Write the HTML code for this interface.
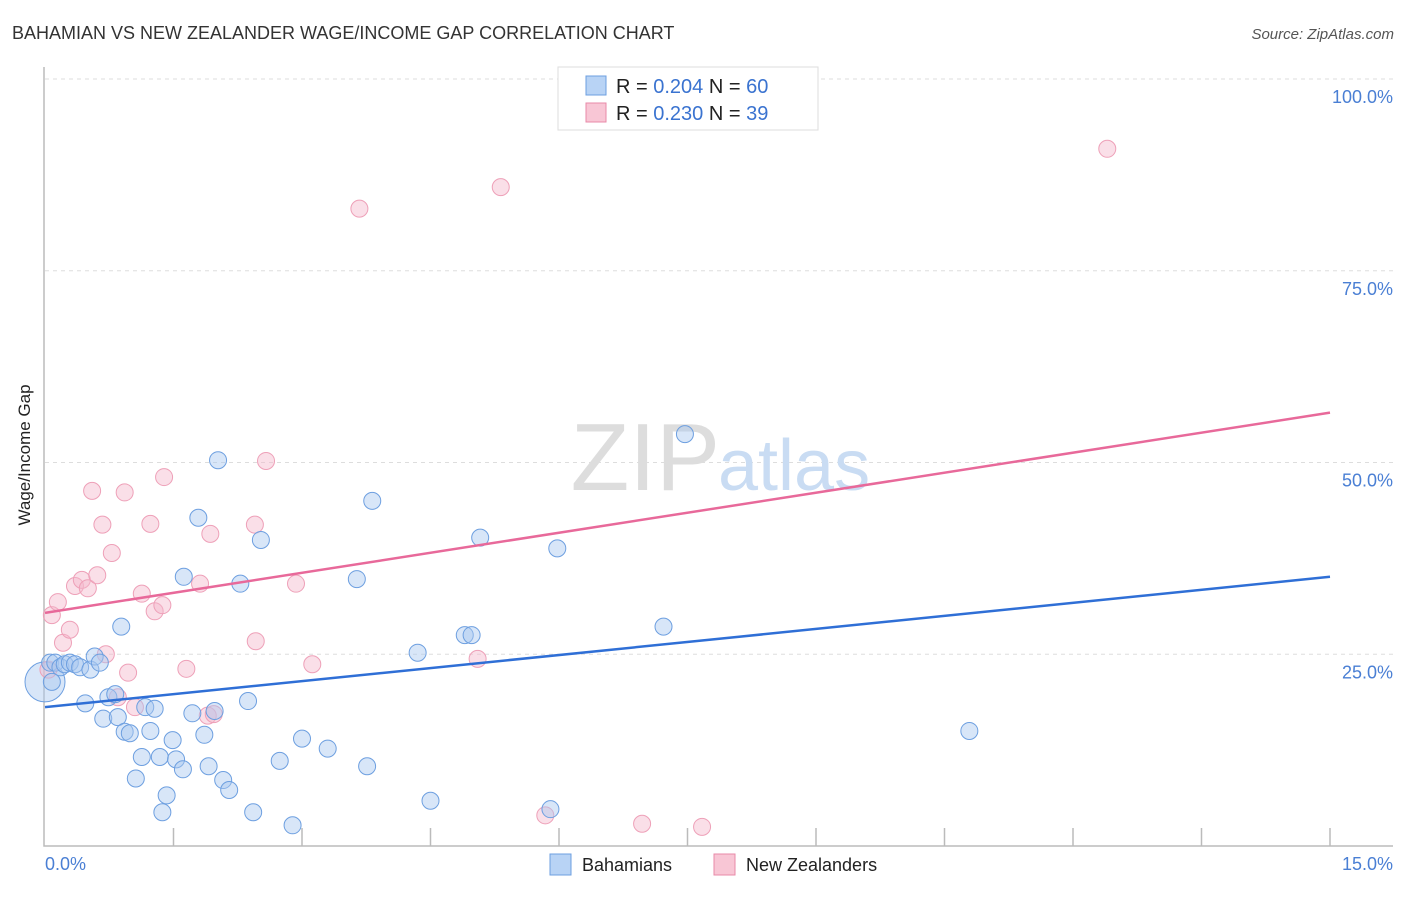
<!DOCTYPE html>
<html><head><meta charset="utf-8"><style>
body{margin:0;background:#fff;font-family:"Liberation Sans",sans-serif;}
svg text{font-family:"Liberation Sans",sans-serif;}
</style></head><body>
<svg width="1406" height="892">
<text x="12" y="39" font-size="18" fill="#333">BAHAMIAN VS NEW ZEALANDER WAGE/INCOME GAP CORRELATION CHART</text>
<text x="1394" y="39" font-size="15" fill="#555" font-style="italic" text-anchor="end">Source: ZipAtlas.com</text>
<g id="grid"></g>
<text x="720" y="490" font-size="96" fill="#ddd" text-anchor="end" font-family="Liberation Serif">ZIP</text>
<text x="718" y="490" font-size="72" fill="#c9dcf3">atlas</text>
<g id="marks"></g>
<text x="30" y="455" font-size="17" fill="#222" text-anchor="middle" transform="rotate(-90 30 455)">Wage/Income Gap</text>
<text x="45" y="870" font-size="18" fill="#4a7fd4">0.0%</text>
<text x="1393" y="870" font-size="18" fill="#4a7fd4" text-anchor="end">15.0%</text>
<g>
<rect x="558" y="67" width="260" height="63" fill="#fff" stroke="#ddd"/>
<rect x="586" y="76" width="20" height="19" fill="#b8d3f5" stroke="#6d9fe0"/>
<rect x="586" y="103" width="20" height="19" fill="#f8c6d5" stroke="#e88aa8"/>
<text x="616" y="93" font-size="20" fill="#222">R = <tspan fill="#3a73d0">0.204</tspan>   N = <tspan fill="#3a73d0">60</tspan></text>
<text x="616" y="120" font-size="20" fill="#222">R = <tspan fill="#3a73d0">0.230</tspan>   N = <tspan fill="#3a73d0">39</tspan></text>
</g>
<g>
<rect x="550" y="854" width="21" height="21" fill="#b8d3f5" stroke="#6d9fe0"/>
<text x="582" y="871" font-size="18" fill="#222">Bahamians</text>
<rect x="714" y="854" width="21" height="21" fill="#f8c6d5" stroke="#e88aa8"/>
<text x="746" y="871" font-size="18" fill="#222">New Zealanders</text>
</g>
</svg>
<script>
const yTicks=[25,50,75,100];
const xTickVals=[1,2,3,4,5,6,7,8,9,10,11,12,13,14,15];
const blueX=[0.06,0.12,0.18,0.23,0.29,0.35,0.41,0.53,0.58,0.64,0.47,0.68,0.74,0.82,0.85,0.89,0.93,0.99,1.06,1.13,1.17,1.23,1.28,1.34,1.37,1.42,1.49,1.53,1.61,1.62,1.72,1.79,1.86,1.91,1.98,2.02,2.08,2.15,2.28,2.37,2.43,2.52,2.74,2.89,3.00,3.30,3.64,3.76,3.82,4.35,4.50,4.90,4.98,5.08,5.90,5.98,7.22,7.47,10.79,0.08];
const blueY=[23.9,23.9,23.3,23.7,23.9,23.7,23.3,23.0,24.7,23.9,18.6,16.6,19.4,19.8,16.8,28.6,14.9,14.7,8.8,11.6,18.1,15.0,17.9,11.6,4.4,6.6,13.8,11.3,10.0,35.1,17.3,42.8,14.5,10.4,17.6,50.3,8.6,7.3,34.2,18.9,4.4,39.9,11.1,2.7,14.0,12.7,34.8,10.4,45.0,25.2,5.9,27.5,27.5,40.2,4.8,38.8,28.6,53.7,15.0,21.4];
const pinkX=[0.08,0.15,0.21,0.29,0.35,0.43,0.50,0.55,0.61,0.67,0.71,0.78,0.85,0.93,0.97,1.05,1.13,1.23,1.28,1.37,1.39,1.65,1.81,1.93,1.90,1.97,2.45,2.46,2.58,2.93,3.12,3.67,5.05,5.32,5.84,6.97,7.67,12.40,0.04];
const pinkY=[30.1,31.8,26.5,28.2,33.9,34.7,33.6,46.3,35.3,41.9,25.0,38.2,19.4,46.1,22.6,18.1,32.9,42.0,30.6,31.4,48.1,23.1,34.2,40.7,17.0,17.2,41.9,26.7,50.2,34.2,23.7,83.1,24.4,85.9,4.0,2.9,2.5,90.9,23.0];
const blueLine=[18.1,35.1], pinkLine=[30.4,56.5];
const sx=v=>45+v/15*1285, sy=v=>846-v*7.67;
const NS="http://www.w3.org/2000/svg";
const grid=document.getElementById('grid'), marks=document.getElementById('marks');
function mk(tag,attrs,parent){const e=document.createElementNS(NS,tag);for(const k in attrs)e.setAttribute(k,attrs[k]);parent.appendChild(e);return e;}
yTicks.forEach(t=>{
 const l=mk('line',{x1:45,x2:1393,y1:sy(t),y2:sy(t),stroke:'#ddd','stroke-dasharray':'4,4'},grid);
 
 
 const tx=mk('text',{x:1393,y:sy(t)+24,'font-size':18,fill:'#4a7fd4','text-anchor':'end'},grid);
 tx.textContent=t.toFixed(1)+'%';
 
 
});
const ax=mk('path',{d:'M44 67 V846 H1393',fill:'none',stroke:'#bbb','stroke-width':1.5},grid);


xTickVals.forEach(t=>{if(t%1.5>0.01&&t!==15)return;});
for(let i=1;i<=10;i++){const v=i*1.5;
 const l=mk('line',{x1:sx(v),x2:sx(v),y1:828,y2:846,stroke:'#bbb','stroke-width':1.5},grid);
 
 
}
const big1=mk('circle',{cx:sx(0),cy:sy(21.4),r:20,fill:'rgba(168,200,240,0.45)',stroke:'#6d9fe0'},marks);


pinkX.forEach((x,i)=>{
 const c=mk('circle',{cx:sx(x),cy:sy(pinkY[i]),r:8.5,fill:'rgba(245,184,203,0.45)',stroke:'#eea0b8'},marks);
 
 
});
blueX.forEach((x,i)=>{
 const c=mk('circle',{cx:sx(x),cy:sy(blueY[i]),r:8.5,fill:'rgba(168,200,240,0.45)',stroke:'#6d9fe0'},marks);
 
 
});
const bl=mk('line',{x1:sx(0),y1:sy(blueLine[0]),x2:sx(15),y2:sy(blueLine[1]),stroke:'#2f6fd6','stroke-width':2.5},marks);


const pl=mk('line',{x1:sx(0),y1:sy(pinkLine[0]),x2:sx(15),y2:sy(pinkLine[1]),stroke:'#e8699a','stroke-width':2.5},marks);


</script>
</body></html>
